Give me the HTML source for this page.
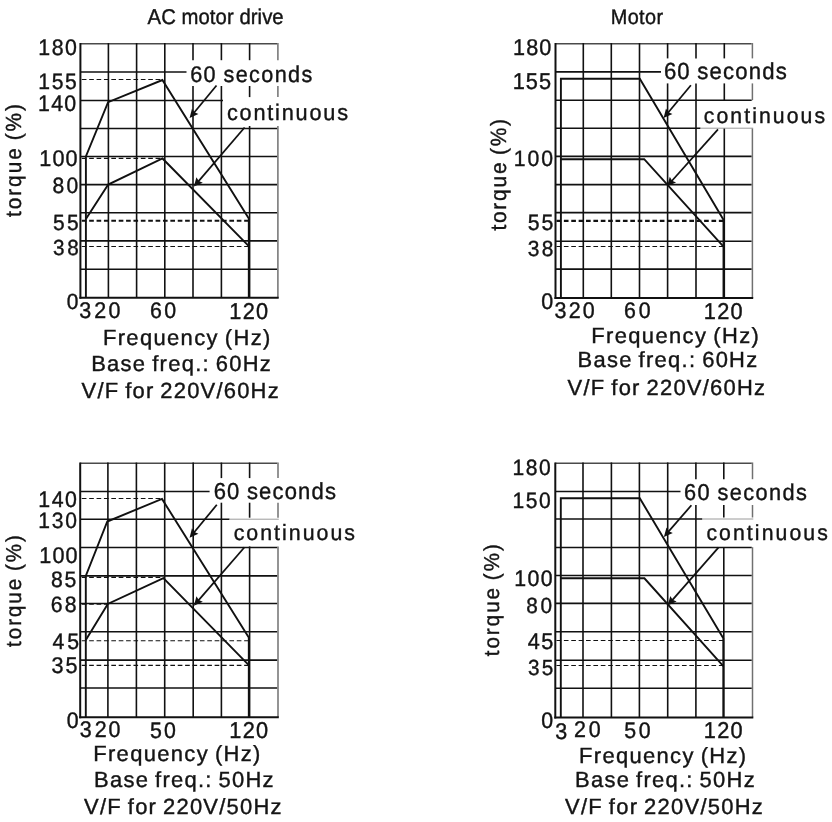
<!DOCTYPE html>
<html><head><meta charset="utf-8"><style>html,body{margin:0;padding:0;background:#fff;}svg{display:block;}text{font-family:"Liberation Sans",sans-serif;fill:#141414;stroke:#141414;stroke-width:0.4px;font-kerning:none;text-rendering:geometricPrecision;}</style></head><body>
<svg width="832" height="822" viewBox="0 0 832 822">
<rect width="832" height="822" fill="#fff"/>
<g id="lines">
<line x1="80.40" y1="43.80" x2="277.20" y2="43.80" stroke="#4a4a4a" stroke-width="1.50"/>
<line x1="80.40" y1="72.00" x2="186.50" y2="72.00" stroke="#111" stroke-width="1.60"/>
<line x1="80.40" y1="100.50" x2="223.00" y2="100.50" stroke="#111" stroke-width="1.60"/>
<line x1="80.40" y1="128.50" x2="277.20" y2="128.50" stroke="#111" stroke-width="1.60"/>
<line x1="80.40" y1="156.50" x2="277.20" y2="156.50" stroke="#111" stroke-width="1.60"/>
<line x1="80.40" y1="184.60" x2="277.20" y2="184.60" stroke="#111" stroke-width="1.60"/>
<line x1="80.40" y1="212.70" x2="277.20" y2="212.70" stroke="#111" stroke-width="1.60"/>
<line x1="80.40" y1="240.90" x2="277.20" y2="240.90" stroke="#111" stroke-width="1.60"/>
<line x1="80.40" y1="269.20" x2="277.20" y2="269.20" stroke="#111" stroke-width="1.60"/>
<line x1="108.40" y1="43.05" x2="108.40" y2="297.70" stroke="#111" stroke-width="1.60"/>
<line x1="136.60" y1="43.05" x2="136.60" y2="297.70" stroke="#111" stroke-width="1.60"/>
<line x1="164.80" y1="43.05" x2="164.80" y2="297.70" stroke="#111" stroke-width="1.60"/>
<line x1="193.00" y1="43.05" x2="193.00" y2="60.20" stroke="#111" stroke-width="1.60"/>
<line x1="193.00" y1="86.00" x2="193.00" y2="297.70" stroke="#111" stroke-width="1.60"/>
<line x1="221.40" y1="43.05" x2="221.40" y2="60.20" stroke="#111" stroke-width="1.60"/>
<line x1="221.40" y1="86.00" x2="221.40" y2="297.70" stroke="#111" stroke-width="1.60"/>
<line x1="249.60" y1="43.05" x2="249.60" y2="60.20" stroke="#111" stroke-width="1.60"/>
<line x1="249.60" y1="86.00" x2="249.60" y2="97.10" stroke="#111" stroke-width="1.60"/>
<line x1="249.60" y1="126.00" x2="249.60" y2="297.70" stroke="#111" stroke-width="1.60"/>
<line x1="277.90" y1="43.05" x2="277.90" y2="60.20" stroke="#707070" stroke-width="1.50"/>
<line x1="277.90" y1="86.00" x2="277.90" y2="97.10" stroke="#707070" stroke-width="1.50"/>
<line x1="277.90" y1="126.00" x2="277.90" y2="297.70" stroke="#707070" stroke-width="1.50"/>
<line x1="80.40" y1="43.00" x2="80.40" y2="298.70" stroke="#111" stroke-width="2.00"/>
<line x1="79.40" y1="297.70" x2="278.70" y2="297.70" stroke="#111" stroke-width="2.00"/>
<line x1="81.80" y1="79.50" x2="162.50" y2="79.50" stroke="#111" stroke-width="1.15" stroke-dasharray="4.65 2.73"/>
<line x1="81.80" y1="158.30" x2="162.50" y2="158.30" stroke="#111" stroke-width="1.15" stroke-dasharray="4.65 2.73"/>
<line x1="81.80" y1="220.80" x2="248.00" y2="220.80" stroke="#111" stroke-width="2.10" stroke-dasharray="4.65 2.73"/>
<line x1="81.80" y1="246.50" x2="248.00" y2="246.50" stroke="#111" stroke-width="1.15" stroke-dasharray="4.65 2.73"/>
<polyline points="85.90,297.50 85.90,156.50 108.10,102.20 162.40,80.00 248.80,218.40 248.80,297.50" fill="none" stroke="#111" stroke-width="1.90" stroke-linejoin="miter"/>
<polyline points="85.90,219.00 108.20,184.60 162.50,158.50 248.80,246.10" fill="none" stroke="#111" stroke-width="1.90" stroke-linejoin="miter"/>
<line x1="216.50" y1="85.50" x2="192.14" y2="115.03" stroke="#111" stroke-width="1.75"/>
<polygon points="189.59,118.12 191.95,108.66 194.35,112.35 198.43,114.00" fill="#111"/>
<line x1="244.60" y1="127.50" x2="196.48" y2="183.57" stroke="#111" stroke-width="1.75"/>
<polygon points="193.88,186.61 196.42,177.19 198.75,180.93 202.80,182.66" fill="#111"/>
<line x1="555.50" y1="43.80" x2="751.70" y2="43.80" stroke="#4a4a4a" stroke-width="1.50"/>
<line x1="555.50" y1="71.90" x2="661.00" y2="71.90" stroke="#111" stroke-width="1.60"/>
<line x1="555.50" y1="100.20" x2="751.70" y2="100.20" stroke="#111" stroke-width="1.60"/>
<line x1="555.50" y1="128.20" x2="700.50" y2="128.20" stroke="#111" stroke-width="1.60"/>
<line x1="700.50" y1="128.20" x2="753.20" y2="128.20" stroke="#9a9a9a" stroke-width="1.00"/>
<line x1="555.50" y1="156.40" x2="751.70" y2="156.40" stroke="#111" stroke-width="1.60"/>
<line x1="555.50" y1="184.60" x2="751.70" y2="184.60" stroke="#111" stroke-width="1.60"/>
<line x1="555.50" y1="212.60" x2="751.70" y2="212.60" stroke="#111" stroke-width="1.60"/>
<line x1="555.50" y1="241.30" x2="751.70" y2="241.30" stroke="#111" stroke-width="1.60"/>
<line x1="555.50" y1="269.10" x2="751.70" y2="269.10" stroke="#111" stroke-width="1.60"/>
<line x1="583.30" y1="43.05" x2="583.30" y2="298.00" stroke="#111" stroke-width="1.60"/>
<line x1="611.30" y1="43.05" x2="611.30" y2="298.00" stroke="#111" stroke-width="1.60"/>
<line x1="639.50" y1="43.05" x2="639.50" y2="298.00" stroke="#111" stroke-width="1.60"/>
<line x1="667.60" y1="43.05" x2="667.60" y2="58.40" stroke="#111" stroke-width="1.60"/>
<line x1="667.60" y1="83.40" x2="667.60" y2="298.00" stroke="#111" stroke-width="1.60"/>
<line x1="696.00" y1="43.05" x2="696.00" y2="58.40" stroke="#111" stroke-width="1.60"/>
<line x1="696.00" y1="83.40" x2="696.00" y2="298.00" stroke="#111" stroke-width="1.60"/>
<line x1="724.30" y1="43.05" x2="724.30" y2="58.40" stroke="#111" stroke-width="1.60"/>
<line x1="724.30" y1="83.40" x2="724.30" y2="100.20" stroke="#111" stroke-width="1.60"/>
<line x1="724.30" y1="128.60" x2="724.30" y2="298.00" stroke="#111" stroke-width="1.60"/>
<line x1="752.40" y1="43.05" x2="752.40" y2="58.40" stroke="#707070" stroke-width="1.50"/>
<line x1="752.40" y1="83.40" x2="752.40" y2="100.20" stroke="#707070" stroke-width="1.50"/>
<line x1="752.40" y1="128.60" x2="752.40" y2="298.00" stroke="#707070" stroke-width="1.50"/>
<line x1="555.50" y1="43.00" x2="555.50" y2="299.00" stroke="#111" stroke-width="2.00"/>
<line x1="554.50" y1="298.00" x2="753.20" y2="298.00" stroke="#111" stroke-width="2.00"/>
<line x1="556.50" y1="220.90" x2="723.00" y2="220.90" stroke="#111" stroke-width="2.10" stroke-dasharray="4.65 2.73"/>
<line x1="556.50" y1="246.50" x2="723.00" y2="246.50" stroke="#111" stroke-width="1.15" stroke-dasharray="4.65 2.73"/>
<polyline points="560.90,298.00 560.90,78.80 639.80,78.80 723.50,219.70 723.50,298.00" fill="none" stroke="#111" stroke-width="1.90" stroke-linejoin="miter"/>
<polyline points="560.90,159.20 644.20,159.20 723.50,246.70" fill="none" stroke="#111" stroke-width="1.90" stroke-linejoin="miter"/>
<line x1="690.90" y1="85.20" x2="666.15" y2="114.94" stroke="#111" stroke-width="1.75"/>
<polygon points="663.59,118.01 665.99,108.56 668.37,112.27 672.45,113.94" fill="#111"/>
<line x1="718.00" y1="129.40" x2="669.74" y2="183.22" stroke="#111" stroke-width="1.75"/>
<polygon points="667.07,186.20 669.81,176.84 672.06,180.63 676.07,182.45" fill="#111"/>
<line x1="80.20" y1="463.30" x2="277.30" y2="463.30" stroke="#4a4a4a" stroke-width="1.50"/>
<line x1="80.20" y1="491.50" x2="209.60" y2="491.50" stroke="#111" stroke-width="1.60"/>
<line x1="80.20" y1="519.20" x2="229.50" y2="519.20" stroke="#111" stroke-width="1.60"/>
<line x1="229.50" y1="519.20" x2="278.80" y2="519.20" stroke="#9a9a9a" stroke-width="1.00"/>
<line x1="80.20" y1="547.50" x2="277.30" y2="547.50" stroke="#111" stroke-width="1.60"/>
<line x1="80.20" y1="575.90" x2="277.30" y2="575.90" stroke="#111" stroke-width="1.60"/>
<line x1="80.20" y1="603.50" x2="277.30" y2="603.50" stroke="#111" stroke-width="1.60"/>
<line x1="80.20" y1="631.80" x2="277.30" y2="631.80" stroke="#111" stroke-width="1.60"/>
<line x1="80.20" y1="660.10" x2="277.30" y2="660.10" stroke="#111" stroke-width="1.60"/>
<line x1="80.20" y1="688.00" x2="277.30" y2="688.00" stroke="#111" stroke-width="1.60"/>
<line x1="107.90" y1="462.55" x2="107.90" y2="717.20" stroke="#111" stroke-width="1.60"/>
<line x1="136.40" y1="462.55" x2="136.40" y2="717.20" stroke="#111" stroke-width="1.60"/>
<line x1="164.70" y1="462.55" x2="164.70" y2="717.20" stroke="#111" stroke-width="1.60"/>
<line x1="193.20" y1="462.55" x2="193.20" y2="717.20" stroke="#111" stroke-width="1.60"/>
<line x1="221.40" y1="462.55" x2="221.40" y2="478.10" stroke="#111" stroke-width="1.60"/>
<line x1="221.40" y1="502.70" x2="221.40" y2="717.20" stroke="#111" stroke-width="1.60"/>
<line x1="249.60" y1="462.55" x2="249.60" y2="478.10" stroke="#111" stroke-width="1.60"/>
<line x1="249.60" y1="502.70" x2="249.60" y2="517.70" stroke="#111" stroke-width="1.60"/>
<line x1="249.60" y1="546.40" x2="249.60" y2="717.20" stroke="#111" stroke-width="1.60"/>
<line x1="278.00" y1="462.55" x2="278.00" y2="478.10" stroke="#707070" stroke-width="1.50"/>
<line x1="278.00" y1="502.70" x2="278.00" y2="517.70" stroke="#707070" stroke-width="1.50"/>
<line x1="278.00" y1="546.40" x2="278.00" y2="717.20" stroke="#707070" stroke-width="1.50"/>
<line x1="80.20" y1="462.50" x2="80.20" y2="718.20" stroke="#111" stroke-width="2.00"/>
<line x1="79.20" y1="717.20" x2="278.80" y2="717.20" stroke="#111" stroke-width="2.00"/>
<line x1="81.80" y1="498.50" x2="162.00" y2="498.50" stroke="#111" stroke-width="1.15" stroke-dasharray="4.65 2.73"/>
<line x1="81.80" y1="577.30" x2="163.00" y2="577.30" stroke="#111" stroke-width="1.15" stroke-dasharray="4.65 2.73"/>
<line x1="81.80" y1="604.10" x2="107.50" y2="604.10" stroke="#111" stroke-width="1.15" stroke-dasharray="4.65 2.73"/>
<line x1="81.80" y1="640.70" x2="248.00" y2="640.70" stroke="#111" stroke-width="1.15" stroke-dasharray="4.65 2.73"/>
<line x1="81.80" y1="665.30" x2="248.00" y2="665.30" stroke="#111" stroke-width="1.15" stroke-dasharray="4.65 2.73"/>
<polyline points="85.80,717.20 85.80,576.00 107.30,521.50 162.00,498.90 248.80,637.50 248.80,717.20" fill="none" stroke="#111" stroke-width="1.90" stroke-linejoin="miter"/>
<polyline points="85.80,640.00 107.80,604.00 163.40,578.20 248.80,665.20" fill="none" stroke="#111" stroke-width="1.90" stroke-linejoin="miter"/>
<line x1="216.80" y1="504.80" x2="192.14" y2="534.73" stroke="#111" stroke-width="1.75"/>
<polygon points="189.59,537.82 191.95,528.36 194.35,532.04 198.43,533.70" fill="#111"/>
<line x1="244.50" y1="547.20" x2="196.49" y2="602.68" stroke="#111" stroke-width="1.75"/>
<polygon points="193.88,605.70 196.46,596.30 198.77,600.05 202.81,601.80" fill="#111"/>
<line x1="555.30" y1="463.20" x2="751.80" y2="463.20" stroke="#4a4a4a" stroke-width="1.50"/>
<line x1="555.30" y1="491.50" x2="680.50" y2="491.50" stroke="#111" stroke-width="1.60"/>
<line x1="555.30" y1="519.00" x2="702.30" y2="519.00" stroke="#111" stroke-width="1.60"/>
<line x1="702.30" y1="519.00" x2="753.30" y2="519.00" stroke="#9a9a9a" stroke-width="1.00"/>
<line x1="555.30" y1="547.50" x2="751.80" y2="547.50" stroke="#111" stroke-width="1.60"/>
<line x1="555.30" y1="575.50" x2="751.80" y2="575.50" stroke="#111" stroke-width="1.60"/>
<line x1="555.30" y1="603.40" x2="751.80" y2="603.40" stroke="#111" stroke-width="1.60"/>
<line x1="555.30" y1="631.80" x2="751.80" y2="631.80" stroke="#111" stroke-width="1.60"/>
<line x1="555.30" y1="660.20" x2="751.80" y2="660.20" stroke="#111" stroke-width="1.60"/>
<line x1="555.30" y1="688.30" x2="751.80" y2="688.30" stroke="#111" stroke-width="1.60"/>
<line x1="583.00" y1="462.45" x2="583.00" y2="717.50" stroke="#111" stroke-width="1.60"/>
<line x1="611.40" y1="462.45" x2="611.40" y2="717.50" stroke="#111" stroke-width="1.60"/>
<line x1="639.40" y1="462.45" x2="639.40" y2="717.50" stroke="#111" stroke-width="1.60"/>
<line x1="667.70" y1="462.45" x2="667.70" y2="717.50" stroke="#111" stroke-width="1.60"/>
<line x1="695.90" y1="462.45" x2="695.90" y2="479.20" stroke="#111" stroke-width="1.60"/>
<line x1="695.90" y1="505.00" x2="695.90" y2="717.50" stroke="#111" stroke-width="1.60"/>
<line x1="723.80" y1="462.45" x2="723.80" y2="479.20" stroke="#111" stroke-width="1.60"/>
<line x1="723.80" y1="505.00" x2="723.80" y2="517.50" stroke="#111" stroke-width="1.60"/>
<line x1="723.80" y1="547.20" x2="723.80" y2="717.50" stroke="#111" stroke-width="1.60"/>
<line x1="752.50" y1="462.45" x2="752.50" y2="479.20" stroke="#707070" stroke-width="1.50"/>
<line x1="752.50" y1="505.00" x2="752.50" y2="517.50" stroke="#707070" stroke-width="1.50"/>
<line x1="752.50" y1="547.20" x2="752.50" y2="717.50" stroke="#707070" stroke-width="1.50"/>
<line x1="555.30" y1="462.40" x2="555.30" y2="718.50" stroke="#111" stroke-width="2.00"/>
<line x1="554.30" y1="717.50" x2="753.30" y2="717.50" stroke="#111" stroke-width="2.00"/>
<line x1="556.50" y1="640.50" x2="723.00" y2="640.50" stroke="#111" stroke-width="1.15" stroke-dasharray="4.65 2.73"/>
<line x1="556.50" y1="665.50" x2="723.00" y2="665.50" stroke="#111" stroke-width="1.15" stroke-dasharray="4.65 2.73"/>
<polyline points="560.80,717.50 560.80,498.30 639.80,498.30 723.30,638.30 723.30,717.50" fill="none" stroke="#111" stroke-width="1.90" stroke-linejoin="miter"/>
<polyline points="560.80,578.30 644.40,578.30 723.30,666.10" fill="none" stroke="#111" stroke-width="1.90" stroke-linejoin="miter"/>
<line x1="691.40" y1="505.30" x2="666.50" y2="533.89" stroke="#111" stroke-width="1.75"/>
<polygon points="663.87,536.90 666.49,527.51 668.79,531.26 672.82,533.03" fill="#111"/>
<line x1="718.60" y1="547.40" x2="670.31" y2="602.40" stroke="#111" stroke-width="1.75"/>
<polygon points="667.67,605.40 670.32,596.02 672.61,599.78 676.63,601.56" fill="#111"/>
</g>
<g id="texts">
<text id="tl_title" transform="translate(147.56 23.80) scale(0.9500 1)" font-size="21.37" letter-spacing="0.063">AC motor drive</text>
<text id="tl_180" transform="translate(38.27 55.08) scale(0.9500 1)" font-size="22.46" letter-spacing="1.612">180</text>
<text id="tl_155" transform="translate(38.29 88.78) scale(0.9500 1)" font-size="22.21" letter-spacing="1.728">155</text>
<text id="tl_140" transform="translate(38.07 110.68) scale(0.9500 1)" font-size="22.46" letter-spacing="1.349">140</text>
<text id="tl_100" transform="translate(39.35 165.88) scale(0.9500 1)" font-size="22.74" letter-spacing="1.182">100</text>
<text id="tl_80" transform="translate(52.48 192.58) scale(0.9500 1)" font-size="22.17" letter-spacing="2.533">80</text>
<text id="tl_55" transform="translate(53.06 229.78) scale(0.9500 1)" font-size="22.07" letter-spacing="2.419">55</text>
<text id="tl_38" transform="translate(53.11 255.39) scale(0.9500 1)" font-size="21.75" letter-spacing="2.738">38</text>
<text id="tl_0" transform="translate(66.78 308.78) scale(0.9500 1)" font-size="22.03" letter-spacing="0.000">0</text>
<text id="tl_3" transform="translate(79.18 317.58) scale(0.9500 1)" font-size="22.60" letter-spacing="0.000">3</text>
<text id="tl_20" transform="translate(94.22 317.58) scale(0.9500 1)" font-size="22.60" letter-spacing="2.567">20</text>
<text id="tl_60" transform="translate(149.92 317.78) scale(0.9500 1)" font-size="22.46" letter-spacing="2.617">60</text>
<text id="tl_120" transform="translate(229.34 318.88) scale(0.9500 1)" font-size="22.88" letter-spacing="1.283">120</text>
<text id="tl_freq" transform="translate(102.90 344.70) scale(1.0000 1)" font-size="21.95" letter-spacing="1.364" word-spacing="-1.50">Frequency (Hz)</text>
<text id="tl_base" transform="translate(91.20 370.70) scale(1.0000 1)" font-size="21.95" letter-spacing="1.281" word-spacing="-1.50">Base freq.: 60Hz</text>
<text id="tl_vf" transform="translate(81.60 397.60) scale(1.0000 1)" font-size="21.95" letter-spacing="1.221" word-spacing="-1.50">V/F for 220V/60Hz</text>
<text id="tl_torque" transform="translate(20.57 217.11) rotate(-90) scale(0.9500 1)" font-size="21.90" letter-spacing="2.092" word-spacing="-2.00">torque (%)</text>
<text id="tl_60s" transform="translate(190.20 81.88) scale(0.9500 1)" font-size="22.74" letter-spacing="1.466" word-spacing="-1.00">60 seconds</text>
<text id="tl_cont" transform="translate(226.88 119.73) scale(0.9700 1)" font-size="22.36" letter-spacing="1.861">continuous</text>
<text id="tr_title" transform="translate(610.77 23.80) scale(0.9500 1)" font-size="20.93" letter-spacing="0.378">Motor</text>
<text id="tr_180" transform="translate(513.05 54.88) scale(0.9500 1)" font-size="22.74" letter-spacing="1.182">180</text>
<text id="tr_155" transform="translate(512.74 88.78) scale(0.9500 1)" font-size="22.93" letter-spacing="1.015">155</text>
<text id="tr_100" transform="translate(513.79 165.78) scale(0.9500 1)" font-size="22.32" letter-spacing="2.037">100</text>
<text id="tr_55" transform="translate(527.65 230.08) scale(0.9500 1)" font-size="22.36" letter-spacing="2.229">55</text>
<text id="tr_38" transform="translate(527.70 255.68) scale(0.9500 1)" font-size="22.03" letter-spacing="2.552">38</text>
<text id="tr_0" transform="translate(541.36 308.78) scale(0.9500 1)" font-size="22.60" letter-spacing="0.000">0</text>
<text id="tr_3" transform="translate(554.38 317.58) scale(0.9500 1)" font-size="22.60" letter-spacing="0.000">3</text>
<text id="tr_20" transform="translate(568.82 317.58) scale(0.9500 1)" font-size="22.60" letter-spacing="2.146">20</text>
<text id="tr_60" transform="translate(624.12 317.78) scale(0.9500 1)" font-size="22.46" letter-spacing="2.828">60</text>
<text id="tr_120" transform="translate(703.84 318.88) scale(0.9500 1)" font-size="22.88" letter-spacing="1.283">120</text>
<text id="tr_freq" transform="translate(591.20 342.80) scale(1.0000 1)" font-size="21.95" letter-spacing="1.379" word-spacing="-1.50">Frequency (Hz)</text>
<text id="tr_base" transform="translate(577.60 366.80) scale(1.0000 1)" font-size="21.95" letter-spacing="1.281" word-spacing="-1.50">Base freq.: 60Hz</text>
<text id="tr_vf" transform="translate(567.60 394.80) scale(1.0000 1)" font-size="21.95" letter-spacing="1.246" word-spacing="-1.50">V/F for 220V/60Hz</text>
<text id="tr_torque" transform="translate(506.34 230.62) rotate(-90) scale(0.9500 1)" font-size="22.01" letter-spacing="1.874" word-spacing="-2.00">torque (%)</text>
<text id="tr_60s" transform="translate(663.88 78.67) scale(0.9500 1)" font-size="23.30" letter-spacing="1.244" word-spacing="-1.00">60 seconds</text>
<text id="tr_cont" transform="translate(703.70 122.99) scale(0.9700 1)" font-size="21.90" letter-spacing="2.142">continuous</text>
<text id="bl_140" transform="translate(38.27 506.98) scale(0.9500 1)" font-size="22.46" letter-spacing="1.612">140</text>
<text id="bl_130" transform="translate(38.30 527.78) scale(0.9500 1)" font-size="22.17" letter-spacing="1.831">130</text>
<text id="bl_100" transform="translate(39.25 563.18) scale(0.9500 1)" font-size="22.74" letter-spacing="1.182">100</text>
<text id="bl_85" transform="translate(50.88 586.78) scale(0.9500 1)" font-size="22.32" letter-spacing="2.032">85</text>
<text id="bl_68" transform="translate(50.72 611.68) scale(0.9500 1)" font-size="22.32" letter-spacing="2.228">68</text>
<text id="bl_45" transform="translate(52.41 648.78) scale(0.9500 1)" font-size="22.36" letter-spacing="3.110">45</text>
<text id="bl_35" transform="translate(51.58 672.98) scale(0.9500 1)" font-size="22.74" letter-spacing="1.896">35</text>
<text id="bl_0" transform="translate(66.77 727.88) scale(0.9500 1)" font-size="22.46" letter-spacing="0.000">0</text>
<text id="bl_3" transform="translate(79.78 736.78) scale(0.9500 1)" font-size="22.60" letter-spacing="0.000">3</text>
<text id="bl_20" transform="translate(94.72 736.78) scale(0.9500 1)" font-size="22.60" letter-spacing="2.041">20</text>
<text id="bl_50" transform="translate(149.95 737.68) scale(0.9500 1)" font-size="22.46" letter-spacing="2.271">50</text>
<text id="bl_120" transform="translate(229.34 737.88) scale(0.9500 1)" font-size="22.88" letter-spacing="1.283">120</text>
<text id="bl_freq" transform="translate(93.20 760.80) scale(1.0000 1)" font-size="21.95" letter-spacing="1.348" word-spacing="-1.50">Frequency (Hz)</text>
<text id="bl_base" transform="translate(94.10 786.80) scale(1.0000 1)" font-size="21.95" letter-spacing="1.268" word-spacing="-1.50">Base freq.: 50Hz</text>
<text id="bl_vf" transform="translate(84.10 814.40) scale(1.0000 1)" font-size="21.95" letter-spacing="1.246" word-spacing="-1.50">V/F for 220V/50Hz</text>
<text id="bl_torque" transform="translate(20.73 646.91) rotate(-90) scale(0.9500 1)" font-size="21.58" letter-spacing="2.093" word-spacing="-2.00">torque (%)</text>
<text id="bl_60s" transform="translate(213.68 498.77) scale(0.9500 1)" font-size="23.16" letter-spacing="1.253" word-spacing="-1.00">60 seconds</text>
<text id="bl_cont" transform="translate(233.69 540.49) scale(0.9700 1)" font-size="22.00" letter-spacing="2.071">continuous</text>
<text id="br_180" transform="translate(512.50 474.88) scale(0.9500 1)" font-size="22.17" letter-spacing="1.621">180</text>
<text id="br_150" transform="translate(512.50 507.68) scale(0.9500 1)" font-size="22.17" letter-spacing="1.621">150</text>
<text id="br_100" transform="translate(514.17 585.78) scale(0.9500 1)" font-size="22.46" letter-spacing="1.454">100</text>
<text id="br_80" transform="translate(526.20 612.99) scale(0.9500 1)" font-size="21.89" letter-spacing="2.824">80</text>
<text id="br_45" transform="translate(527.70 648.98) scale(0.9500 1)" font-size="22.79" letter-spacing="1.502">45</text>
<text id="br_35" transform="translate(528.01 675.29) scale(0.9500 1)" font-size="21.75" letter-spacing="2.285">35</text>
<text id="br_0" transform="translate(541.37 727.88) scale(0.9500 1)" font-size="22.46" letter-spacing="0.000">0</text>
<text id="br_3" transform="translate(555.18 738.88) scale(0.9500 1)" font-size="22.60" letter-spacing="0.000">3</text>
<text id="br_20" transform="translate(573.92 736.78) scale(0.9500 1)" font-size="22.60" letter-spacing="2.988">20</text>
<text id="br_50" transform="translate(624.35 737.68) scale(0.9500 1)" font-size="22.46" letter-spacing="2.586">50</text>
<text id="br_120" transform="translate(703.84 737.88) scale(0.9500 1)" font-size="22.88" letter-spacing="1.283">120</text>
<text id="br_freq" transform="translate(579.00 762.70) scale(1.0000 1)" font-size="21.95" letter-spacing="1.340" word-spacing="-1.50">Frequency (Hz)</text>
<text id="br_base" transform="translate(575.10 786.80) scale(1.0000 1)" font-size="21.95" letter-spacing="1.275" word-spacing="-1.50">Base freq.: 50Hz</text>
<text id="br_vf" transform="translate(565.00 814.40) scale(1.0000 1)" font-size="21.95" letter-spacing="1.271" word-spacing="-1.50">V/F for 220V/50Hz</text>
<text id="br_torque" transform="translate(499.33 656.31) rotate(-90) scale(0.9500 1)" font-size="21.58" letter-spacing="2.139" word-spacing="-2.00">torque (%)</text>
<text id="br_60s" transform="translate(684.00 500.08) scale(0.9500 1)" font-size="22.88" letter-spacing="1.469" word-spacing="-1.00">60 seconds</text>
<text id="br_cont" transform="translate(706.40 540.49) scale(0.9700 1)" font-size="21.90" letter-spacing="2.142">continuous</text>
</g>
</svg></body></html>
